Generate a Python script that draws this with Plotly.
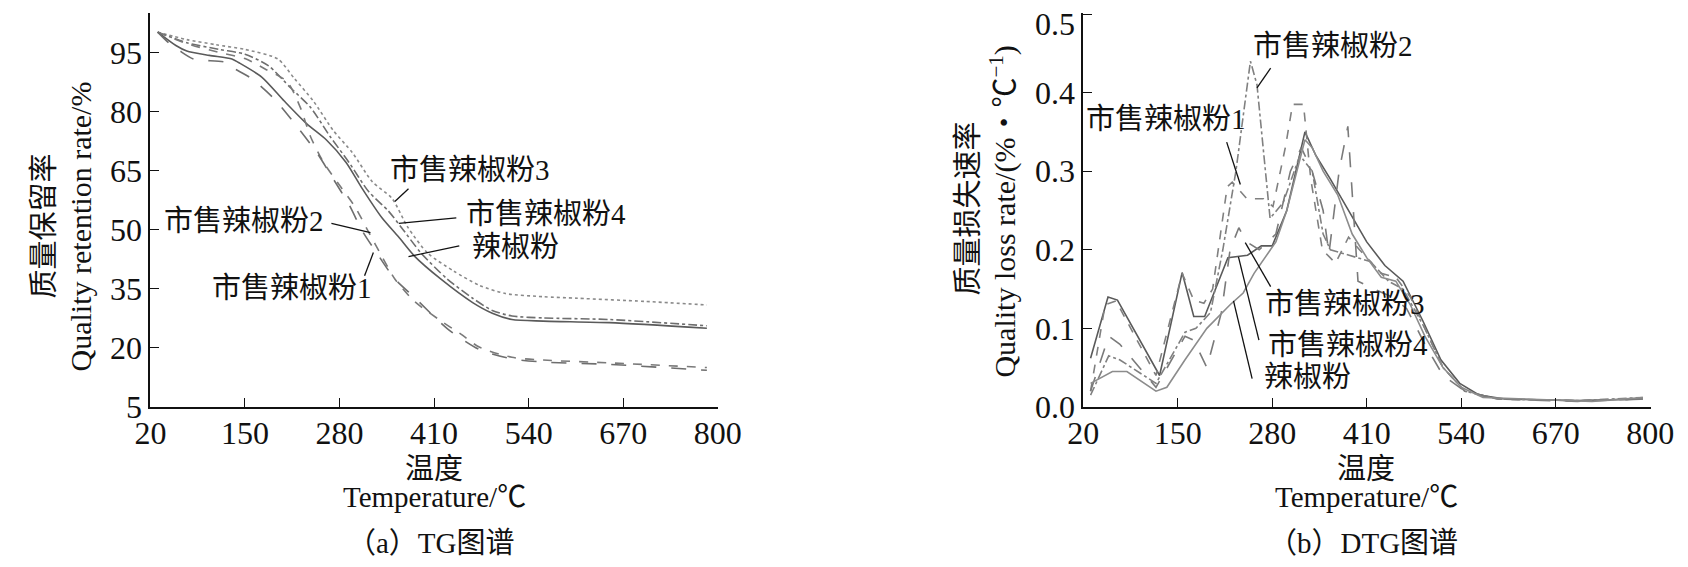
import plotly.graph_objects as go

# ---- TG data (temperature in °C, mass retention in %) ----
tg_s3_t = [30, 70, 110, 150, 195, 218, 244, 271, 298, 325, 352, 374, 401, 437, 472, 508, 560, 607, 700, 785]
tg_s3_m = [100.2, 98.3, 97.0, 95.8, 93.4, 88.4, 82.7, 75.3, 69.5, 62.2, 58.0, 50.6, 44.1, 39.5, 35.9, 33.8, 33.0, 32.6, 31.8, 30.9]

tg_s4_t = [30, 70, 115, 150, 182, 213, 240, 267, 293, 320, 347, 365, 392, 428, 463, 490, 517, 560, 651, 785]
tg_s4_m = [100.2, 97.5, 95.8, 94.6, 91.7, 86.0, 81.1, 73.7, 67.1, 59.7, 54.8, 50.6, 44.1, 37.5, 32.6, 29.5, 28.1, 27.6, 27.2, 25.6]

tg_ref_t = [30, 55, 70, 101, 132, 141, 173, 204, 235, 262, 289, 311, 338, 361, 383, 419, 463, 490, 517, 560, 651, 785]
tg_ref_m = [100.2, 96.8, 95.4, 94.3, 93.4, 92.5, 88.8, 82.7, 76.9, 72.8, 67.1, 60.5, 53.1, 48.2, 43.3, 37.5, 31.5, 28.8, 27.2, 26.8, 26.4, 25.0]

tg_s2_t = [30, 70, 115, 150, 177, 208, 226, 240, 258, 280, 302, 320, 338, 356, 383, 419, 446, 472, 517, 560, 651, 785]
tg_s2_m = [100.2, 97.3, 95.0, 93.5, 90.9, 87.6, 81.1, 73.7, 67.1, 61.3, 55.6, 49.4, 43.3, 37.5, 31.8, 26.9, 23.6, 20.2, 17.6, 16.9, 16.2, 15.0]

tg_s1_t = [30, 45, 60, 79, 124, 132, 159, 191, 222, 249, 271, 293, 311, 334, 356, 383, 428, 472, 517, 560, 651, 785]
tg_s1_m = [100.2, 97.5, 95.5, 93.4, 92.5, 91.3, 88.4, 83.1, 76.1, 69.5, 63.0, 56.4, 49.8, 43.3, 37.5, 32.8, 24.9, 19.6, 17.2, 16.4, 15.8, 14.3]

# ---- DTG data (temperature in °C, loss rate in %/°C) ----
dtg_s4_t = [30, 54, 67, 125, 156, 172, 187, 219, 246, 265, 280, 300, 325, 340, 360, 385, 410, 435, 460, 487, 512, 538, 565, 600, 700, 790]
dtg_s4_r = [0.062, 0.140, 0.136, 0.040, 0.171, 0.115, 0.115, 0.190, 0.193, 0.205, 0.205, 0.250, 0.350, 0.320, 0.290, 0.250, 0.210, 0.180, 0.160, 0.110, 0.060, 0.030, 0.015, 0.010, 0.008, 0.010]

dtg_s1_t = [30, 50, 65, 120, 156, 172, 186, 198, 218, 225, 245, 268, 281, 298, 308, 323, 333, 349, 367, 385, 400, 430, 450, 470, 490, 515, 545, 590, 700, 790]
dtg_s1_r = [0.020, 0.130, 0.135, 0.040, 0.170, 0.136, 0.132, 0.150, 0.280, 0.286, 0.265, 0.265, 0.255, 0.330, 0.385, 0.385, 0.290, 0.200, 0.183, 0.216, 0.200, 0.170, 0.165, 0.140, 0.100, 0.050, 0.020, 0.010, 0.008, 0.010]

dtg_s2_t = [30, 55, 70, 120, 160, 175, 195, 212, 230, 250, 259, 277, 295, 318, 335, 350, 360, 415, 440, 460, 490, 515, 545, 590, 700, 790]
dtg_s2_r = [0.015, 0.065, 0.060, 0.030, 0.095, 0.100, 0.120, 0.200, 0.300, 0.440, 0.410, 0.240, 0.260, 0.320, 0.300, 0.220, 0.200, 0.185, 0.160, 0.150, 0.100, 0.050, 0.020, 0.010, 0.008, 0.012]

dtg_s3_t = [30, 55, 70, 120, 160, 172, 190, 210, 222, 234, 245, 262, 285, 305, 320, 335, 350, 358, 372, 384, 398, 420, 445, 465, 490, 515, 545, 590, 700, 790]
dtg_s3_r = [0.020, 0.090, 0.080, 0.025, 0.090, 0.085, 0.050, 0.120, 0.200, 0.228, 0.210, 0.200, 0.220, 0.300, 0.330, 0.300, 0.250, 0.195, 0.300, 0.357, 0.160, 0.150, 0.140, 0.125, 0.080, 0.040, 0.020, 0.010, 0.007, 0.010]

dtg_ref_t = [30, 60, 80, 120, 135, 160, 190, 222, 240, 255, 285, 300, 325, 335, 350, 370, 390, 410, 430, 450, 470, 490, 515, 540, 570, 650, 720, 790]
dtg_ref_r = [0.030, 0.045, 0.045, 0.020, 0.025, 0.060, 0.100, 0.130, 0.145, 0.170, 0.210, 0.250, 0.340, 0.330, 0.300, 0.270, 0.220, 0.190, 0.165, 0.160, 0.130, 0.090, 0.050, 0.025, 0.012, 0.009, 0.007, 0.012]

temp_ticks = [20, 150, 280, 410, 540, 670, 800]
tg_ticks = [5, 20, 35, 50, 65, 80, 95, 105]
tg_tick_text = ["5", "20", "35", "50", "65", "80", "95", ""]
dtg_ticks = [0.0, 0.1, 0.2, 0.3, 0.4, 0.5]
dtg_tick_text = ["0.0", "0.1", "0.2", "0.3", "0.4", ""]
dtg_top_label = "0.5"

# label text, label position, leader line (from, to)
tg_labels = [
    ("市售辣椒粉3", 459, 65.1, 374.8, 60.4, 356.0, 57.2),
    ("市售辣椒粉4", 564, 54.0, 440.5, 53.0, 361.4, 51.6),
    ("辣椒粉", 522, 45.7, 444.6, 45.9, 374.8, 43.2),
    ("市售辣椒粉2", 149, 52.1, 268.8, 51.6, 322.5, 49.3),
    ("市售辣椒粉1", 215, 35.1, 314.4, 38.3, 326.5, 44.2),
]
dtg_labels = [
    ("市售辣椒粉2", 364, 0.459, 277.8, 0.431, 259.0, 0.406),
    ("市售辣椒粉1", 134, 0.366, 217.3, 0.337, 236.1, 0.283),
    ("市售辣椒粉3", 380, 0.131, 277.8, 0.153, 242.9, 0.209),
    ("市售辣椒粉4", 384, 0.079, 261.7, 0.085, 233.5, 0.191),
    ("辣椒粉", 329, 0.038, 252.3, 0.036, 226.7, 0.135),
]

SERIF = "Liberation Serif, Noto Sans CJK SC, serif"
W, H = 1688, 567

fig = go.Figure()


def add_line(t, v, dash, color, xa, ya, shape="linear"):
    fig.add_trace(go.Scatter(
        x=t, y=v, mode="lines", xaxis=xa, yaxis=ya, showlegend=False,
        line={"dash": dash, "color": color, "width": 1.6, "shape": shape, "smoothing": 0.7},
    ))


add_line(tg_s3_t, tg_s3_m, "dot", "#8a8a8a", "x", "y", "spline")
add_line(tg_s4_t, tg_s4_m, "dashdot", "#6e6e6e", "x", "y", "spline")
add_line(tg_ref_t, tg_ref_m, "solid", "#5a5a5a", "x", "y", "spline")
add_line(tg_s2_t, tg_s2_m, "dash", "#7a7a7a", "x", "y", "spline")
add_line(tg_s1_t, tg_s1_m, "longdash", "#6e6e6e", "x", "y", "spline")

add_line(dtg_s4_t, dtg_s4_r, "solid", "#5a5a5a", "x2", "y2")
add_line(dtg_s1_t, dtg_s1_r, "dash", "#808080", "x2", "y2")
add_line(dtg_s2_t, dtg_s2_r, "dashdot", "#808080", "x2", "y2")
add_line(dtg_s3_t, dtg_s3_r, "longdash", "#7a7a7a", "x2", "y2")
add_line(dtg_ref_t, dtg_ref_r, "solid", "#8c8c8c", "x2", "y2")

annotations = []
shapes = []
for labels, xr, yr in ((tg_labels, "x", "y"), (dtg_labels, "x2", "y2")):
    for text, tx, ty, x0, y0, x1, y1 in labels:
        annotations.append(dict(
            text=text, x=tx, y=ty, xref=xr, yref=yr, showarrow=False,
            xanchor="center", yanchor="middle", font={"size": 29, "color": "#111"},
        ))
        shapes.append(dict(
            type="line", x0=x0, y0=y0, x1=x1, y1=y1, xref=xr, yref=yr,
            line={"color": "#111", "width": 1.3},
        ))


def paper_text(text, px, py, size=30, angle=0, xanchor="center"):
    annotations.append(dict(
        text=text, x=px / W, y=1 - py / H, xref="paper", yref="paper",
        showarrow=False, xanchor=xanchor, yanchor="middle", textangle=angle,
        font={"size": size, "color": "#111"},
    ))


paper_text("质量保留率", 20, 225, 29, -90)
paper_text("Quality retention rate/%", 58, 226, 30, -90)
paper_text("质量损失速率", 967, 207, 29, -90)
paper_text("Quality loss rate/(%・℃<sup>−1</sup>)", 1003, 210, 30, -90)
# top tick label of the DTG axis sits just below the axis end
paper_text(dtg_top_label, 1079, 17, 32, xanchor="right")
for cx, cap in ((420, "（a）TG图谱"), (1375, "（b）DTG图谱")):
    paper_text("温度", cx, 476, 29)
    paper_text("Temperature/℃", cx, 505, 29)
    paper_text(cap, cx - 3, 553, 29)

axis_common = dict(
    showline=True, linecolor="#111", linewidth=2, ticks="inside", ticklen=9,
    tickwidth=1.2, tickcolor="#111", showgrid=False, zeroline=False,
    tickfont={"size": 32, "color": "#111"}, fixedrange=True,
)

fig.update_layout(
    width=W, height=H,
    margin={"l": 0, "r": 0, "t": 0, "b": 0},
    paper_bgcolor="white", plot_bgcolor="white",
    font={"family": SERIF, "color": "#111"},
    xaxis=dict(axis_common, domain=[129.5 / W, 711 / W], range=[20, 800.5],
               tickvals=temp_ticks, anchor="y", ticklabelstandoff=-3),
    yaxis=dict(axis_common, domain=[(H - 412) / H, (H - 5) / H], range=[5, 105.1],
               tickvals=tg_ticks, ticktext=tg_tick_text, anchor="x"),
    xaxis2=dict(axis_common, domain=[1085 / W, 1666 / W], range=[20, 800.5],
                tickvals=temp_ticks, anchor="y2", ticklabelstandoff=-3),
    yaxis2=dict(axis_common, domain=[(H - 412) / H, (H - 5) / H], range=[0, 0.5015],
                tickvals=dtg_ticks, ticktext=dtg_tick_text, anchor="x2"),
    annotations=annotations,
    shapes=shapes,
)

fig.write_html("out.html")
